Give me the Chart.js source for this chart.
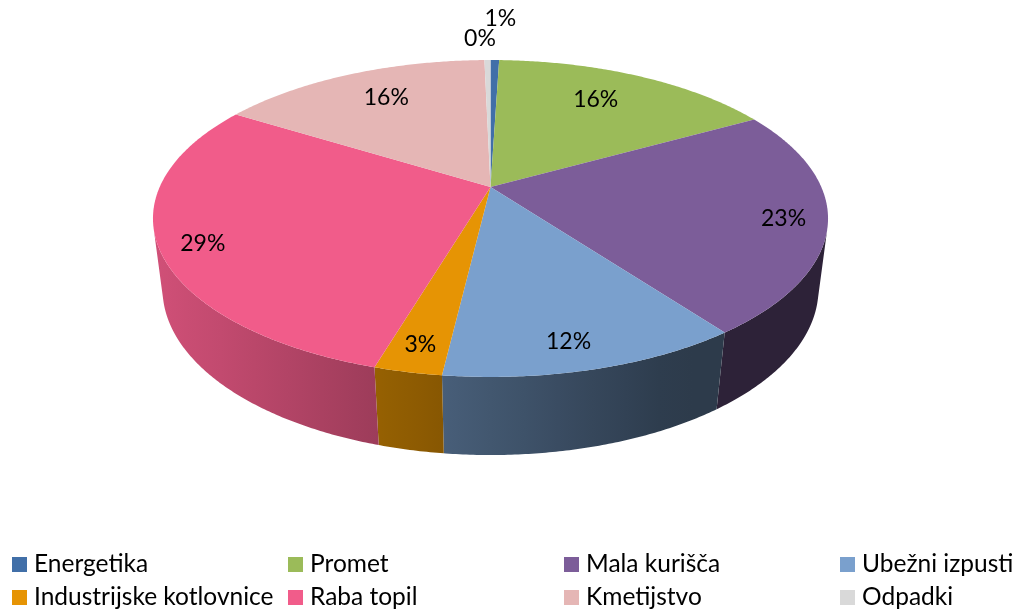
<!DOCTYPE html>
<html>
<head>
<meta charset="utf-8">
<style>
  html, body { margin: 0; padding: 0; background: #fff; }
  canvas { display: block; }
</style>
<script src="https://cdn.jsdelivr.net/npm/chart.js@4"></script>
</head>
<body>
<canvas id="pie" width="1016" height="609"></canvas>
<script>
// data
const categories = ["Energetika", "Promet", "Mala kurišča", "Ubežni izpusti", "Industrijske kotlovnice", "Raba topil", "Kmetijstvo", "Odpadki"];
const shares = [0.5, 16.4, 22.9, 12.0, 2.7, 29.2, 15.8, 0.35];
const colors = ["#416FA8", "#9BBB59", "#7C5D99", "#7AA0CD", "#E69404", "#F15C8A", "#E5B6B5", "#D9D9D9"];

// label placement, as a fraction of the pie radius plus a small nudge
const labelRadius = [1.436, 0.755, 0.873, 0.865, 0.874, 0.879, 0.767, 1.216];
const labelShiftX = [4, -10, 0, -10, 0, 2, 7, -7];
const labelShiftY = [2, 0, 2, 2, 1, 6, 0, 1];

// perspective of the tilted disc (unit circle -> screen)
const top3d = { x: 490.5, y: 187, bx: 330.8, by: 152.2, k: -0.1987 };
const bottom3d = { x: 490.5, y: 257.5, bx: 322, by: 160, k: -0.19 };

const LABEL_FONT = "23px Lato";
const LEGEND_FONT = "24.5px Lato";

function project(p, u, v) {
  const w = 1 + p.k * v;
  return { x: p.x + p.bx * u / w, y: p.y + p.by * v / w };
}

function shaded(hex, x) {
  const t = (x - 153) / 675;
  const f = Math.max(0.37, 0.87 - 0.65 * t);
  const n = parseInt(hex.slice(1), 16);
  return `rgb(${((n >> 16) & 255) * f | 0},${((n >> 8) & 255) * f | 0},${(n & 255) * f | 0})`;
}

const pie3d = {
  id: "pie3d",
  // the arcs are laid out by Chart.js, only the drawing is replaced
  beforeDatasetDraw(chart, args) {
    const ctx = chart.ctx;
    const arcs = chart.getDatasetMeta(args.index).data;
    const STEP = Math.PI / 360;

    // side wall: all front facing quads of a slice in one path, so no seams
    arcs.forEach((arc) => {
      const color = arc.options.backgroundColor;
      const grad = ctx.createLinearGradient(153, 0, 828, 0);
      for (let s = 0; s <= 20; s++) {
        grad.addColorStop(s / 20, shaded(color, 153 + 675 * s / 20));
      }
      ctx.beginPath();
      for (let a = arc.startAngle; a < arc.endAngle; a += STEP) {
        const b = Math.min(a + STEP, arc.endAngle);
        const p1 = project(top3d, Math.cos(a), Math.sin(a));
        const p2 = project(top3d, Math.cos(b), Math.sin(b));
        const p3 = project(bottom3d, Math.cos(b), Math.sin(b));
        const p4 = project(bottom3d, Math.cos(a), Math.sin(a));
        const cross = (p2.x - p1.x) * (p4.y - p1.y) - (p2.y - p1.y) * (p4.x - p1.x);
        if (cross > 0) continue;
        ctx.moveTo(p1.x, p1.y);
        ctx.lineTo(p2.x, p2.y);
        ctx.lineTo(p3.x, p3.y);
        ctx.lineTo(p4.x, p4.y);
        ctx.closePath();
      }
      ctx.fillStyle = grad;
      ctx.fill();
    });

    // top face
    arcs.forEach((arc) => {
      ctx.beginPath();
      ctx.moveTo(top3d.x, top3d.y);
      for (let a = arc.startAngle; a < arc.endAngle; a += STEP) {
        const p = project(top3d, Math.cos(a), Math.sin(a));
        ctx.lineTo(p.x, p.y);
      }
      const e = project(top3d, Math.cos(arc.endAngle), Math.sin(arc.endAngle));
      ctx.lineTo(e.x, e.y);
      ctx.closePath();
      ctx.fillStyle = arc.options.backgroundColor;
      ctx.fill();
    });
    return false;
  },
  afterDraw(chart) {
    const ctx = chart.ctx;
    const arcs = chart.getDatasetMeta(0).data;
    const total = shares.reduce((s, v) => s + v, 0);
    ctx.save();
    ctx.fillStyle = "#000";

    // percent labels
    ctx.font = LABEL_FONT;
    ctx.textAlign = "center";
    ctx.textBaseline = "middle";
    arcs.forEach((arc, i) => {
      const mid = (arc.startAngle + arc.endAngle) / 2;
      const r = labelRadius[i];
      const p = project(top3d, r * Math.cos(mid), r * Math.sin(mid));
      ctx.fillText(Math.round(shares[i] / total * 100) + "%", p.x + labelShiftX[i], p.y + labelShiftY[i]);
    });

    // legend, fixed columns like the original
    ctx.font = LEGEND_FONT;
    ctx.textAlign = "left";
    ctx.textBaseline = "alphabetic";
    categories.forEach((name, i) => {
      const x = 12 + 276 * (i % 4);
      const y = 557 + 33 * Math.floor(i / 4);
      ctx.fillStyle = colors[i];
      ctx.fillRect(x, y, 15, 15);
      ctx.fillStyle = "#000";
      ctx.fillText(name, x + 22, y + 15);
    });
    ctx.restore();
  }
};

const chart = new Chart(document.getElementById("pie"), {
  type: "pie",
  data: {
    labels: categories,
    datasets: [{
      data: shares,
      backgroundColor: colors,
      borderWidth: 0
    }]
  },
  options: {
    responsive: false,
    animation: false,
    plugins: {
      legend: { display: false },
      tooltip: { enabled: false }
    }
  },
  plugins: [pie3d]
});
</script>
</body>
</html>
